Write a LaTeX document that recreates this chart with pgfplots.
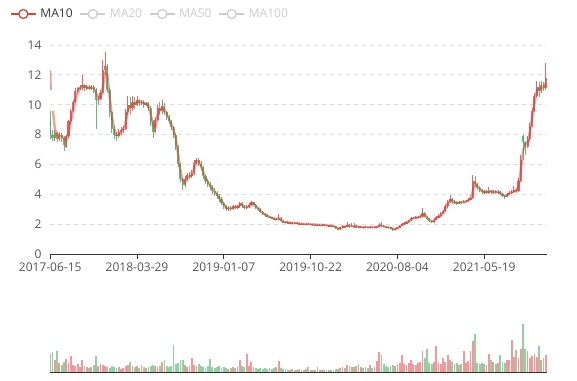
\documentclass[border=0pt]{standalone}
\usepackage{pgfplots}
\pgfplotsset{compat=1.18}
\usepackage{pgfplotstable}
\usepackage{fontspec}
\setmainfont{Open Sans}
\definecolor{upc}{HTML}{EB5454}
\definecolor{dnc}{HTML}{47B262}
\definecolor{mac}{HTML}{D9453A}
\definecolor{axc}{HTML}{333333}
\definecolor{lbc}{HTML}{555555}
\definecolor{grc}{HTML}{DDDDDD}
\definecolor{offc}{HTML}{CCCCCC}

\pgfplotstableread{
d o h l c v
10 7.8 8.3 7.6 8.1 12
20 7.7 8.2 7.6 8.0 9
35 7.2 8.0 7.1 7.9 13
40 7.9 9.0 7.8 8.9 9
45 8.9 9.7 8.7 9.6 16
50 9.6 10.3 9.5 10.2 7
55 10.2 11.1 10.1 10.9 6
60 10.9 11.2 10.8 11.1 8
65 11.1 11.3 11.0 11.2 5
70 11.2 12.0 11.0 11.3 12
80 11.1 11.3 11.0 11.2 5
90 11.1 11.3 11.0 11.2 5
105 10.3 10.6 10.0 10.4 6
110 10.4 11.0 10.3 10.8 8
115 10.8 13.0 10.7 12.3 7
120 12.3 13.5 12.0 12.6 6
150 7.9 8.4 7.8 8.2 5
155 8.2 8.5 8.0 8.3 3
160 8.3 8.6 8.1 8.4 4
165 8.4 9.7 8.3 9.5 6
170 9.5 10.6 9.3 10.0 7
180 9.8 10.6 9.6 10.2 6
190 10.0 10.6 9.9 10.3 6
200 10.1 10.3 10.0 10.2 7
210 10.0 10.2 9.9 10.1 4
230 8.2 9.2 8.1 9.0 6
235 9.0 10.0 8.9 9.8 5
245 9.6 10.3 9.4 9.9 10
295 4.6 5.2 4.5 5.0 7
300 5.0 5.4 4.9 5.3 5
310 5.2 5.6 5.1 5.4 14
315 5.4 6.3 5.3 6.1 7
320 6.1 6.4 6.0 6.3 6
390 3.0 3.2 2.9 3.1 3
400 3.0 3.3 2.95 3.2 5
410 3.1 3.3 3.0 3.2 5
415 3.2 3.5 3.1 3.4 12
430 3.1 3.25 3.0 3.15 18
435 3.15 3.4 3.1 3.25 6
440 3.25 3.55 3.2 3.45 10
495 2.3 2.4 2.25 2.35 5
500 2.35 2.65 2.3 2.4 11
520 2.1 2.18 2.05 2.12 2
530 2.08 2.15 2.03 2.1 3
540 2.05 2.12 2.0 2.06 2
550 2.02 2.08 1.98 2.04 2
560 2.0 2.06 1.96 2.02 3
570 1.98 2.04 1.94 2.0 2
580 1.96 2.0 1.92 1.97 2
590 1.95 2.0 1.9 1.96 2
600 1.93 1.98 1.88 1.94 2
610 1.9 1.95 1.85 1.91 2
635 1.65 1.82 1.62 1.78 4
640 1.78 1.95 1.75 1.85 5
650 1.82 2.12 1.8 1.95 7
660 1.85 2.05 1.8 1.9 5
670 1.82 1.95 1.75 1.86 6
680 1.8 1.88 1.76 1.82 5
690 1.79 1.86 1.76 1.81 5
700 1.78 1.85 1.75 1.8 7
710 1.78 1.85 1.75 1.8 5
715 1.8 1.88 1.76 1.82 11
720 1.82 2.05 1.8 1.95 20
755 1.62 1.72 1.58 1.68 6
760 1.68 1.82 1.65 1.78 8
765 1.78 1.95 1.75 1.9 9
770 1.9 2.08 1.88 2.02 17
775 2.02 2.12 1.98 2.05 8
780 2.05 2.22 2.0 2.15 7
785 2.15 2.3 2.1 2.25 9
790 2.25 2.45 2.2 2.38 12
795 2.38 2.5 2.35 2.42 8
800 2.42 2.52 2.38 2.45 7
805 2.45 2.55 2.4 2.48 9
810 2.48 2.58 2.42 2.5 10
815 2.5 3.05 2.48 2.75 21
840 2.15 2.38 2.1 2.3 10
845 2.3 2.55 2.25 2.45 26
850 2.45 2.65 2.4 2.55 9
855 2.55 2.78 2.5 2.7 8
860 2.7 2.95 2.65 2.85 14
865 2.85 3.35 2.8 3.2 10
870 3.2 3.6 3.1 3.5 17
875 3.5 3.95 3.4 3.7 12
895 3.4 3.58 3.35 3.48 7
905 3.45 3.62 3.4 3.5 21
910 3.5 3.65 3.45 3.55 9
915 3.55 3.75 3.5 3.65 11
920 3.65 3.85 3.6 3.75 21
925 3.75 5.3 3.7 4.9 31
950 4.15 4.3 4.05 4.2 8
960 4.1 4.5 4.05 4.25 18
970 4.15 4.3 4.05 4.2 10
980 4.12 4.3 4.05 4.18 9
1000 3.85 4.1 3.8 4.0 12
1005 4.0 4.2 3.95 4.1 12
1010 4.1 4.3 4.05 4.15 32
1015 4.15 4.55 4.1 4.3 15
1025 4.2 5.1 4.15 4.9 14
1030 4.9 6.6 4.85 6.3 23
1045 7.2 7.9 7.1 7.7 21
1050 7.7 8.8 7.6 8.6 14
1055 8.6 9.8 8.5 9.6 16
1060 9.6 10.8 9.5 10.6 18
1065 10.6 11.6 10.5 11.2 15
1075 10.9 11.6 10.8 11.3 12
1085 11.1 12.8 11.0 11.8 17
}\uptab

\pgfplotstableread{
d o h l c v
0 8.9 9.6 7.7 8.0 18
5 8.0 8.3 7.6 7.8 20
15 8.1 8.2 7.5 7.7 21
25 8.0 8.1 7.5 7.8 7
30 7.8 7.9 6.9 7.3 10
75 11.3 11.4 10.9 11.1 6
85 11.2 11.3 11.0 11.1 4
95 11.2 11.3 10.8 11.0 7
100 11.0 11.1 8.4 10.3 16
125 12.6 12.7 10.8 11.0 5
130 11.0 11.1 9.2 9.5 4
135 9.5 9.6 8.1 8.4 6
140 8.4 8.6 7.7 8.0 5
145 8.0 8.2 7.6 7.9 4
175 10.0 10.5 9.4 9.8 10
185 10.2 10.5 9.7 10.0 5
195 10.3 10.4 9.9 10.1 4
205 10.2 10.3 9.8 10.0 5
215 10.1 10.2 9.6 9.8 5
220 9.8 9.9 8.6 8.9 6
225 8.9 9.0 7.8 8.2 7
240 9.8 10.2 9.3 9.6 6
250 9.9 10.1 9.3 9.5 12
255 9.5 9.6 9.0 9.2 6
260 9.2 9.3 8.7 8.9 5
265 8.9 9.0 8.3 8.5 6
270 8.5 8.6 7.8 8.0 27
275 8.0 8.1 7.0 7.2 8
280 7.2 7.3 5.8 6.0 9
285 6.0 6.1 4.8 5.0 12
290 5.0 5.1 4.3 4.6 12
305 5.3 5.5 5.0 5.2 6
325 6.3 6.4 5.9 6.0 8
330 6.0 6.2 5.6 5.8 6
335 5.8 5.9 5.0 5.2 5
340 5.2 5.3 4.7 4.9 4
345 4.9 5.0 4.5 4.7 6
350 4.7 4.8 4.3 4.5 13
355 4.5 4.6 4.0 4.2 5
360 4.2 4.4 3.9 4.1 4
365 4.1 4.2 3.7 3.9 5
370 3.9 4.0 3.5 3.7 6
375 3.7 3.8 3.3 3.4 4
380 3.4 3.5 3.0 3.2 5
385 3.2 3.3 2.9 3.0 4
395 3.1 3.2 2.9 3.0 4
405 3.2 3.3 3.0 3.1 4
420 3.4 3.45 3.1 3.2 6
425 3.2 3.3 3.0 3.1 5
445 3.45 3.5 3.2 3.3 5
450 3.3 3.35 3.0 3.1 4
455 3.1 3.15 2.9 3.0 3
460 3.0 3.05 2.75 2.8 4
465 2.8 2.85 2.6 2.7 3
470 2.7 2.75 2.5 2.6 4
475 2.6 2.65 2.45 2.5 3
480 2.5 2.55 2.4 2.45 4
485 2.45 2.5 2.35 2.4 3
490 2.4 2.45 2.25 2.3 4
505 2.4 2.45 2.15 2.2 4
510 2.2 2.25 2.1 2.15 3
515 2.15 2.2 2.05 2.1 3
525 2.12 2.15 2.03 2.08 2
535 2.1 2.13 2.0 2.05 2
545 2.06 2.1 1.98 2.02 3
555 2.04 2.07 1.96 2.0 2
565 2.02 2.05 1.94 1.98 5
575 2.0 2.02 1.92 1.96 2
585 1.97 2.0 1.9 1.95 5
595 1.96 1.99 1.88 1.93 2
605 1.94 1.96 1.86 1.9 2
615 1.91 1.94 1.84 1.88 2
620 1.88 1.92 1.8 1.85 2
625 1.85 1.87 1.7 1.75 3
630 1.75 1.77 1.6 1.65 3
645 1.85 1.9 1.78 1.82 4
655 1.95 2.0 1.75 1.85 6
665 1.9 2.1 1.72 1.82 5
675 1.86 1.9 1.74 1.8 8
685 1.82 1.85 1.75 1.79 4
695 1.81 1.84 1.74 1.78 4
705 1.8 1.84 1.74 1.78 4
725 1.95 2.12 1.82 1.88 17
730 1.88 1.92 1.78 1.82 8
735 1.82 1.85 1.76 1.8 6
740 1.8 1.83 1.74 1.78 5
745 1.78 1.8 1.66 1.72 6
750 1.72 1.74 1.57 1.62 7
820 2.75 2.8 2.45 2.5 14
825 2.5 2.55 2.3 2.35 23
830 2.35 2.4 2.15 2.22 9
835 2.22 2.28 2.08 2.15 8
880 3.7 3.75 3.35 3.5 10
885 3.5 3.6 3.35 3.45 8
890 3.45 3.55 3.3 3.4 9
900 3.48 3.55 3.35 3.45 8
930 4.9 5.2 4.5 4.7 38
935 4.7 4.75 4.3 4.45 9
940 4.45 4.5 4.15 4.3 8
945 4.3 4.35 4.05 4.15 9
955 4.2 4.3 4.0 4.1 7
965 4.25 4.3 4.05 4.15 12
975 4.2 4.28 4.0 4.12 8
985 4.18 4.25 3.95 4.05 17
990 4.05 4.1 3.8 3.9 10
995 3.9 3.95 3.7 3.85 9
1020 4.3 4.35 4.1 4.2 22
1035 7.9 8.0 6.3 7.5 48
1040 7.5 7.6 6.6 7.2 23
1070 11.2 11.5 10.5 10.9 26
1080 11.3 11.5 10.9 11.1 14
}\dntab

\pgfplotstableread{
d m
0 12.3
1 11.0
2 nan
6 9.6
10 8.4
15 8.0
20 7.9
25 7.9
30 7.7
35 7.6
40 8.1
45 8.9
50 9.6
55 10.3
60 10.8
65 11.1
70 11.2
75 11.2
80 11.2
85 11.15
90 11.15
95 11.1
100 10.8
105 10.5
110 10.5
115 11.2
120 12.1
125 12.0
130 10.6
135 9.2
140 8.4
145 8.0
150 8.0
155 8.2
160 8.35
165 8.8
170 9.6
175 9.9
180 10.0
185 10.1
190 10.15
195 10.2
200 10.15
205 10.1
210 10.05
215 9.95
220 9.4
225 8.6
230 8.5
235 9.3
240 9.7
245 9.75
250 9.7
255 9.4
260 9.05
265 8.7
270 8.3
275 7.7
280 6.7
285 5.6
290 4.9
295 4.8
300 5.1
305 5.25
310 5.3
315 5.7
320 6.2
325 6.2
330 5.9
335 5.5
340 5.1
345 4.8
350 4.6
355 4.4
360 4.15
365 4.0
370 3.8
375 3.55
380 3.3
385 3.1
390 3.05
395 3.05
400 3.1
405 3.15
410 3.15
415 3.3
420 3.3
425 3.15
430 3.12
435 3.2
440 3.35
445 3.4
450 3.2
455 3.05
460 2.9
465 2.75
470 2.65
475 2.55
480 2.48
485 2.43
490 2.35
495 2.32
500 2.38
505 2.3
510 2.18
515 2.12
520 2.11
525 2.1
530 2.09
535 2.08
540 2.06
545 2.04
550 2.03
555 2.02
560 2.01
565 2.0
570 1.99
575 1.98
580 1.97
585 1.96
590 1.955
595 1.945
600 1.935
605 1.92
610 1.9
615 1.895
620 1.865
625 1.8
630 1.7
635 1.72
640 1.8
645 1.84
650 1.88
655 1.9
660 1.88
665 1.86
670 1.84
675 1.83
680 1.81
685 1.8
690 1.8
695 1.795
700 1.79
705 1.79
710 1.79
715 1.81
720 1.88
725 1.92
730 1.85
735 1.81
740 1.79
745 1.75
750 1.67
755 1.65
760 1.73
765 1.84
770 1.96
775 2.03
780 2.1
785 2.2
790 2.31
795 2.4
800 2.43
805 2.46
810 2.49
815 2.62
820 2.62
825 2.42
830 2.28
835 2.18
840 2.22
845 2.37
850 2.5
855 2.62
860 2.77
865 3.02
870 3.35
875 3.6
880 3.6
885 3.48
890 3.42
895 3.44
900 3.46
905 3.47
910 3.52
915 3.6
920 3.7
925 4.2
930 4.75
935 4.6
940 4.38
945 4.22
950 4.17
955 4.15
960 4.17
965 4.2
970 4.17
975 4.16
980 4.15
985 4.12
990 3.98
995 3.88
1000 3.92
1005 4.05
1010 4.12
1015 4.22
1020 4.25
1025 4.55
1030 5.6
1035 6.9
1040 7.35
1045 7.45
1050 8.15
1055 9.1
1060 10.1
1065 10.9
1070 11.05
1075 11.1
1080 11.2
1085 11.45
}\matab

\begin{document}
\begin{tikzpicture}
\path[use as bounding box] (0,0) rectangle (577pt,380pt);
\begin{axis}[
  at={(50pt,126pt)}, anchor=south west,
  scale only axis, width=497pt, height=209pt,
  xmin=-0.5, xmax=1087.5, ymin=0, ymax=14,
  axis x line*=bottom, axis y line*=left,
  x axis line style={draw=axc, line width=0.8pt, -},
  y axis line style={draw=none},
  xtick={0,190,380,570,760,950},
  xticklabels={2017-06-15,2018-03-29,2019-01-07,2019-10-22,2020-08-04,2021-05-19},
  ytick={0,2,4,6,8,10,12,14},
  ymajorgrids, grid style={grc, dash pattern=on 4pt off 4pt, line width=0.8pt},
  xtick style={draw=axc, line width=0.8pt},
  ytick style={draw=none},
  tick align=outside, major tick length=5pt,
  tick label style={font=\fontsize{12pt}{14pt}\selectfont, text=lbc},
  /pgf/number format/assume math mode=true,
  legend columns=-1,
  legend style={at={(-0.0805,1.1483)}, anchor=west, draw=none, fill=none, inner sep=0pt,
    font=\fontsize{12pt}{14pt}\selectfont, text=axc,
    nodes={inner sep=0pt},
    /tikz/every odd column/.append style={column sep=4pt},
    /tikz/every even column/.append style={column sep=7pt}},
  legend image code/.code={
    \draw[#1, line width=1.3pt] (0pt,0pt) -- (25pt,0pt);
    \draw[#1, line width=1.3pt, fill=white] (12.5pt,0pt) circle (4.5pt);},
]
\addlegendimage{mac}\addlegendentry{MA10}
\addlegendimage{offc}\addlegendentry{\textcolor{offc}{MA20}}
\addlegendimage{offc}\addlegendentry{\textcolor{offc}{MA50}}
\addlegendimage{offc}\addlegendentry{\textcolor{offc}{MA100}}
% wicks and bodies
\addplot[forget plot, draw=none, mark=none,
  error bars/.cd, y dir=both, y explicit, error mark=none,
  error bar style={draw=dnc, line width=0.8pt, opacity=0.85}]
  table[x=d, y expr=(\thisrow{h}+\thisrow{l})/2, y error expr=(\thisrow{h}-\thisrow{l})/2] {\dntab};
\addplot[forget plot, draw=none, mark=none,
  error bars/.cd, y dir=both, y explicit, error mark=none,
  error bar style={draw=dnc, line width=2.1pt, opacity=0.85}]
  table[x=d, y expr=(\thisrow{o}+\thisrow{c})/2, y error expr=(\thisrow{o}-\thisrow{c})/2] {\dntab};
\addplot[forget plot, draw=none, mark=none,
  error bars/.cd, y dir=both, y explicit, error mark=none,
  error bar style={draw=upc, line width=0.8pt, opacity=0.9}]
  table[x=d, y expr=(\thisrow{h}+\thisrow{l})/2, y error expr=(\thisrow{h}-\thisrow{l})/2] {\uptab};
\addplot[forget plot, draw=none, mark=none,
  error bars/.cd, y dir=both, y explicit, error mark=none,
  error bar style={draw=upc, line width=2.1pt, opacity=0.9}]
  table[x=d, y expr=(\thisrow{c}+\thisrow{o})/2, y error expr=(\thisrow{c}-\thisrow{o})/2] {\uptab};
% MA10
\addplot[forget plot, mac, line width=2.4pt, opacity=0.5, unbounded coords=jump, mark=none]
  table[x=d, y=m] {\matab};
\end{axis}

\begin{axis}[
  at={(50pt,8pt)}, anchor=south west,
  scale only axis, width=497pt, height=60pt,
  xmin=-0.5, xmax=1087.5, ymin=0, ymax=60,
  axis x line*=bottom, axis y line*=left,
  x axis line style={draw=axc, line width=0.8pt, -},
  y axis line style={draw=none},
  xtick=\empty, ytick=\empty,
]
\addplot[ycomb, draw=dnc, line width=1.8pt, opacity=0.6, mark=none] table[x=d, y=v] {\dntab};
\addplot[ycomb, draw=upc, line width=1.8pt, opacity=0.6, mark=none] table[x=d, y=v] {\uptab};
\end{axis}
\end{tikzpicture}
\end{document}
